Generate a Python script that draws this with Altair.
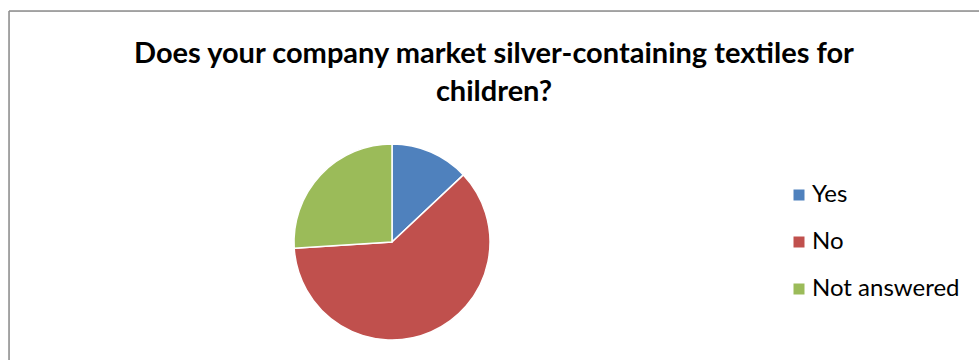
import altair as alt
import pandas as pd

categories = ["Yes", "No", "Not answered"]
values = [13, 61, 26]
colors = ["#4F81BD", "#C0504D", "#9BBB59"]
title_lines = ["Does your company market silver-containing textiles for", "children?"]

W, H = 970, 349

df = pd.DataFrame({"answer": categories, "value": values, "order": [0, 1, 2]})

pie = alt.Chart(df).mark_arc(outerRadius=98, stroke="white", strokeWidth=1.5).encode(
    theta=alt.Theta("value:Q", stack=True),
    order=alt.Order("order:Q"),
    color=alt.Color(
        "answer:N",
        scale=alt.Scale(domain=categories, range=colors),
        legend=alt.Legend(
            title=None,
            orient="none",
            legendX=778,
            legendY=172,
            padding=0,
            symbolType="square",
            symbolSize=121,
            symbolStrokeWidth=0,
            labelFontSize=24,
            labelFont="Lato",
            labelColor="#000000",
            rowPadding=23,
            labelOffset=1,
        ),
    ),
    x=alt.value(383),
    y=alt.value(231),
)

tdf = pd.DataFrame({"line": title_lines, "i": [0, 1]})
title = alt.Chart(tdf).mark_text(
    font="Lato", fontSize=29, fontWeight="bold", color="#000000", align="center", baseline="alphabetic"
).encode(
    text="line:N",
    x=alt.value(485),
    y=alt.Y("i:Q", scale=alt.Scale(domain=[0, 1], range=[52, 90]), axis=None),
)

frame = pd.DataFrame({"x": [0], "y": [0]})
top_rule = alt.Chart(frame).mark_rule(color="#8c8c8c", strokeWidth=1.5).encode(
    x=alt.value(0), x2=alt.value(W + 20), y=alt.value(0)
)
left_rule = alt.Chart(frame).mark_rule(color="#8c8c8c", strokeWidth=1.5).encode(
    x=alt.value(0), y=alt.value(0), y2=alt.value(H + 20)
)

chart = alt.layer(top_rule, left_rule, pie, title).properties(
    width=W,
    height=H,
    autosize=alt.AutoSizeParams(type="none"),
    padding={"left": 9, "top": 11, "right": 0, "bottom": 0},
).configure_view(stroke=None).configure(background="white")

chart.save("out.html", embed_options={"renderer": "svg", "actions": False})
